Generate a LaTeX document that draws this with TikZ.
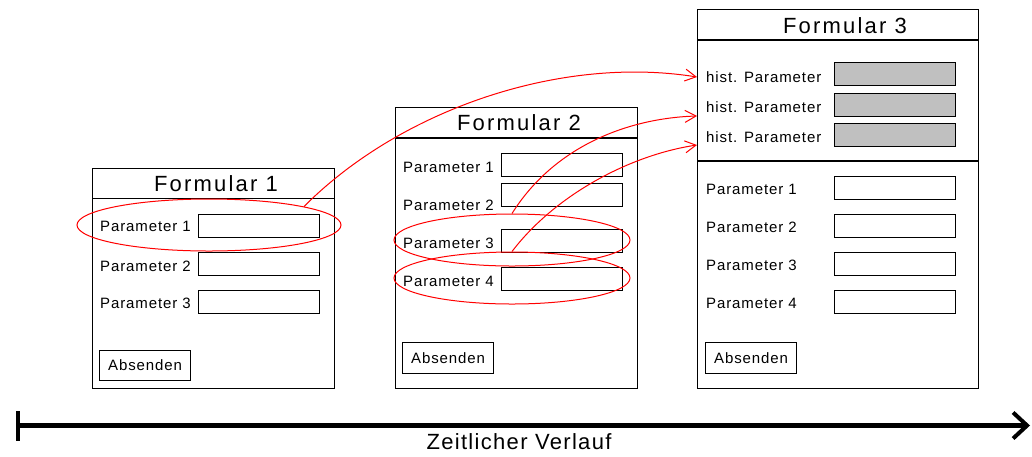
\documentclass[tikz,border=0pt]{standalone}
\usepackage{fontspec}
\setmainfont[LetterSpace=6]{Liberation Sans}
\newfontfamily\titlefont[LetterSpace=10]{Liberation Sans}
\usetikzlibrary{shapes.geometric,arrows.meta}
\definecolor{histgray}{HTML}{C0C0C0}
\tikzset{
  formbox/.style={draw, line width=1.3pt, rectangle, anchor=north west, inner sep=0pt},
  fld/.style={draw, line width=1.1pt, rectangle, anchor=north west, inner sep=0pt,
              minimum width=121pt, minimum height=23pt},
  histfld/.style={fld, fill=histgray},
  lbl/.style={anchor=base west, inner sep=0pt, font=\fontsize{15}{18}\selectfont},
  btn/.style={draw, line width=1.1pt, rectangle, anchor=north west, inner sep=0pt,
              minimum width=91pt, minimum height=30pt, font=\fontsize{15}{18}\selectfont},
  ttl/.style={inner sep=0pt, font=\titlefont\fontsize{22}{26}\selectfont},
  ring/.style={ellipse, draw=red, line width=1pt, inner sep=0pt},
  link/.style={draw=red, line width=1pt, -{Straight Barb[length=11pt,width=12pt]}},
}
\begin{document}
\begin{tikzpicture}[x=1pt,y=-1pt]
\useasboundingbox (0,0) rectangle (1032,456);

% ---------- Formular 1 ----------
\node[formbox, minimum width=242pt, minimum height=220pt] (f1) at (92,168) {};
\draw[line width=1.3pt] (92,198.5) -- (334,198.5);
\node[ttl] (t1) at (216,184) {Formular 1};
\node[fld] (f1p1) at (198,214) {};
\node[fld] (f1p2) at (198,252) {};
\node[fld] (f1p3) at (198,290) {};
\node[lbl] (l1p1) at (100,231) {Parameter 1};
\node[lbl] (l1p2) at (100,271) {Parameter 2};
\node[lbl] (l1p3) at (100,308.5) {Parameter 3};
\node[btn] (b1) at (99,350) {Absenden};

% ---------- Formular 2 ----------
\node[formbox, minimum width=242pt, minimum height=281pt] (f2) at (395,107) {};
\draw[line width=1.3pt] (395,138) -- (637,138);
\node[ttl] (t2) at (519,123) {Formular 2};
\node[fld] (f2p1) at (501,153) {};
\node[fld] (f2p2) at (501,183) {};
\node[fld] (f2p3) at (501,229) {};
\node[fld] (f2p4) at (501,267) {};
\node[lbl] (l2p1) at (403,172.5) {Parameter 1};
\node[lbl] (l2p2) at (403,210.5) {Parameter 2};
\node[lbl] (l2p3) at (403,248.5) {Parameter 3};
\node[lbl] (l2p4) at (403,286.5) {Parameter 4};
\node[btn, minimum height=31pt] (b2) at (402,342) {Absenden};

% ---------- Formular 3 ----------
\node[formbox, minimum width=281pt, minimum height=379pt] (f3) at (697,9) {};
\draw[line width=1.3pt] (697,40) -- (978,40);
\draw[line width=1.3pt] (697,161) -- (978,161);
\node[ttl] (t3) at (845,26) {Formular 3};
\node[histfld] (h1) at (834,62) {};
\node[histfld] (h2) at (834,93) {};
\node[histfld] (h3) at (834,123) {};
\node[lbl] (lh1) at (706,82.5) {hist. Parameter};
\node[lbl] (lh2) at (706,112.5) {hist. Parameter};
\node[lbl] (lh3) at (706,142.5) {hist. Parameter};
\node[fld] (f3p1) at (834,176) {};
\node[fld] (f3p2) at (834,214) {};
\node[fld] (f3p3) at (834,252) {};
\node[fld] (f3p4) at (834,290) {};
\node[lbl] (l3p1) at (706,194.5) {Parameter 1};
\node[lbl] (l3p2) at (706,232.5) {Parameter 2};
\node[lbl] (l3p3) at (706,270.5) {Parameter 3};
\node[lbl] (l3p4) at (706,308.5) {Parameter 4};
\node[btn, minimum height=31pt] (b3) at (705,342) {Absenden};

% ---------- highlighted fields ----------
\node[ring, minimum width=264pt, minimum height=52pt] (e1) at (209,225) {};
\node[ring, minimum width=236pt, minimum height=52pt] (e3) at (512,240) {};
\node[ring, minimum width=236pt, minimum height=52pt] (e4) at (512,278) {};

% ---------- transfer into the history block ----------
\coordinate (in1) at (697,77);
\coordinate (in2) at (697,116);
\coordinate (in3) at (697,145);
\draw[link] (e1.11) .. controls (400,110) and (560,55) .. (in1);
\draw[link] (e3.north) .. controls (555,145) and (630,118) .. (in2);
\draw[link] (e4.north) .. controls (555,195) and (630,155) .. (in3);

% ---------- time axis ----------
\coordinate (ta) at (16,425.5);
\coordinate (tb) at (1030,425.5);
\draw[line width=4.2pt, {Bar[width=30pt,line width=4pt]}-{Straight Barb[length=14pt,width=26pt,line width=4pt]}] (ta) -- (tb);
\node[inner sep=0pt, font=\fontsize{22}{26}\selectfont] (tl) at (519,442) {Zeitlicher Verlauf};
\end{tikzpicture}
\end{document}
